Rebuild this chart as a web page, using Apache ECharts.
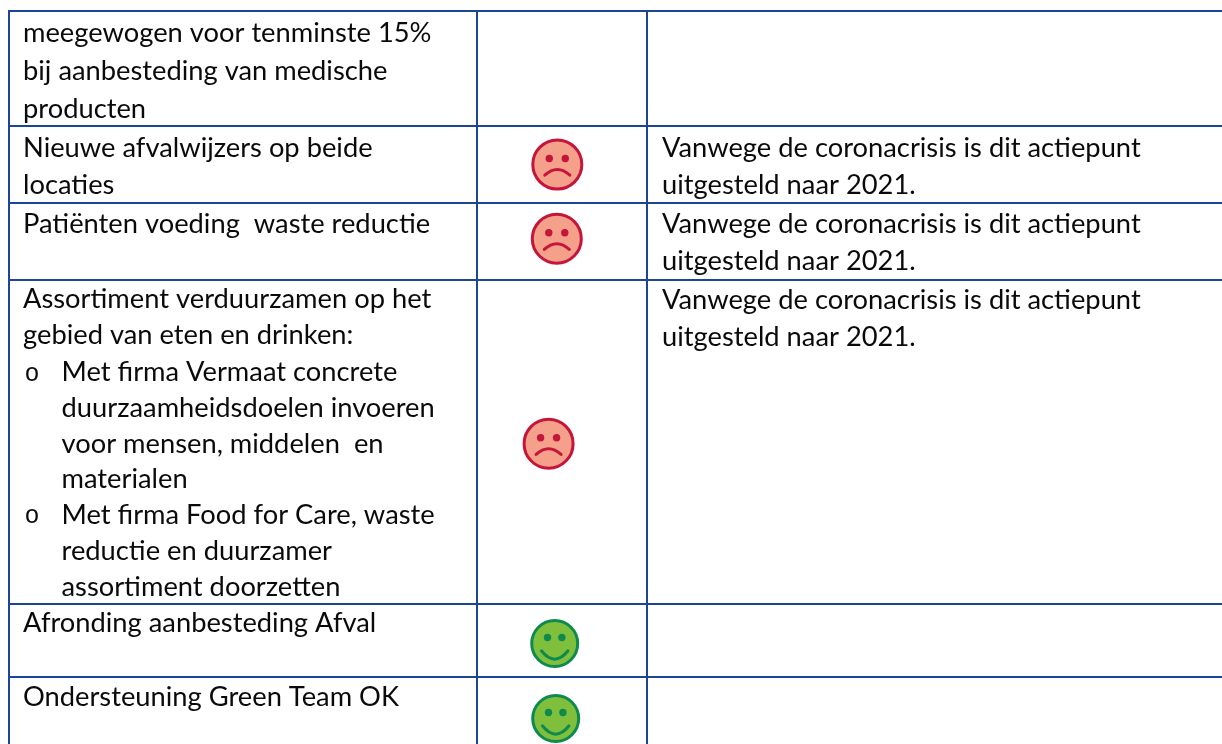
<!DOCTYPE html>
<html>
<head>
<meta charset="utf-8">
<style>
  html, body { margin: 0; padding: 0; background: #fff; }
  #main { width: 1222px; height: 744px; }
</style>
<script src="https://cdn.jsdelivr.net/npm/echarts@6/dist/echarts.min.js"></script>
</head>
<body>
<div id="main"></div>
<script>
// table content, one entry per row
const taskLines = [
  ["meegewogen voor tenminste 15%", "bij aanbesteding van medische", "producten"],
  ["Nieuwe afvalwijzers op beide", "locaties"],
  ["Patiënten voeding  waste reductie"],
  ["Assortiment verduurzamen op het", "gebied van eten en drinken:"],
  ["Afronding aanbesteding Afval"],
  ["Ondersteuning Green Team OK"],
];
const subItems = [
  ["Met firma Vermaat concrete", "duurzaamheidsdoelen invoeren", "voor mensen, middelen  en", "materialen"],
  ["Met firma Food for Care, waste", "reductie en duurzamer", "assortiment doorzetten"],
];
const noteText = ["Vanwege de coronacrisis is dit actiepunt", "uitgesteld naar 2021."];
const noteRows = [1, 2, 3];
const moods = [null, "sad", "sad", "sad", "happy", "happy"];

// layout of the page, axes below run 1:1 with the pixels
const colRules = [9, 477, 647];
const rowRules = [11, 126, 203, 280, 604, 677];
const taskBaselines = [42.5, 157.5, 233.5, 308, 632, 706];
const noteBaselines = { 1: 157, 2: 233, 3: 309 };
const moodCentres = [null, [557.3, 164.5], [556.8, 238.7], [548.6, 443.7], [554.7, 643.5], [555.7, 718.5]];
const LINE_GAP = 36.6;
const TEXT_X = 23;
const NOTE_X = 662;
const SUB_X = 61.5;
const BULLET_X = 32;
const RULE = "#1c4593";
const FONT = "Lato";
const FONT_SIZE = 27.3;

const PALETTE = {
  sad: { fill: "#f4a08a", line: "#c5153a", r: 24.5 },
  happy: { fill: "#80bf3c", line: "#0e8a4e", r: 23 },
};

// every text line as [x, baseline, text, kind]
const textRows = [];
taskLines.forEach((lines, row) => {
  const gap = row === 0 ? 37.7 : LINE_GAP;
  lines.forEach((line, i) => {
    textRows.push([TEXT_X, taskBaselines[row] + i * gap, line, "task"]);
  });
});
let subY = 381.5;
subItems.forEach((lines) => {
  textRows.push([BULLET_X, subY + 1.5, "o", "bullet"]);
  lines.forEach((line) => {
    textRows.push([SUB_X, subY, line, "task"]);
    subY += 35.7;
  });
});
noteRows.forEach((row) => {
  noteText.forEach((line, i) => {
    textRows.push([NOTE_X, noteBaselines[row] + i * 37, line, "note"]);
  });
});

const ruleRows = [
  ...rowRules.map((y) => [colRules[0] - 1, y, 1222, y]),
  ...colRules.map((x) => [x, rowRules[0] - 1, x, 744]),
];

const moodRows = [];
moods.forEach((mood, row) => {
  if (mood) moodRows.push([moodCentres[row][0], moodCentres[row][1], mood]);
});

const renderRule = (params, api) => {
  const a = api.coord([api.value(0), api.value(1)]);
  const b = api.coord([api.value(2), api.value(3)]);
  return {
    type: "line",
    shape: { x1: a[0], y1: a[1], x2: b[0], y2: b[1] },
    style: { stroke: RULE, lineWidth: 2 },
  };
};

const renderText = (params, api) => {
  const p = api.coord([api.value(0), api.value(1)]);
  const row = textRows[params.dataIndex];
  const bullet = row[3] === "bullet";
  return {
    type: "text",
    x: p[0],
    y: p[1] - 9,
    style: {
      text: row[2],
      fill: "#0a0a0a",
      font: bullet ? "25px 'Liberation Mono'" : FONT_SIZE + "px " + FONT,
      align: bullet ? "center" : "left",
      verticalAlign: "middle",
    },
  };
};

const renderMood = (params, api) => {
  const p = api.coord([api.value(0), api.value(1)]);
  const mood = moodRows[params.dataIndex][2];
  const c = PALETTE[mood];
  const sad = mood === "sad";
  const eyeX = sad ? 8 : 7.2;
  const eye = (dx) => ({
    type: "circle",
    shape: { cx: dx, cy: -6, r: 3.7 },
    style: { fill: c.line },
  });
  return {
    type: "group",
    x: p[0],
    y: p[1],
    children: [
      {
        type: "circle",
        shape: { cx: 0, cy: 0, r: c.r },
        style: { fill: c.fill, stroke: c.line, lineWidth: 3 },
      },
      eye(-eyeX),
      eye(eyeX),
      {
        type: "bezierCurve",
        shape: sad
          ? { x1: -12.5, y1: 10.7, x2: 12.5, y2: 10.7, cpx1: 0, cpy1: -0.7 }
          : { x1: -13.3, y1: 7.3, x2: 13.3, y2: 7.3, cpx1: 0, cpy1: 24 },
        style: { fill: "none", stroke: c.line, lineWidth: 3, lineCap: "round" },
      },
    ],
  };
};

const myChart = echarts.init(document.getElementById("main"), null, { renderer: "canvas" });
myChart.setOption({
  animation: false,
  backgroundColor: "#fff",
  grid: { left: 0, right: 0, top: 0, bottom: 0 },
  xAxis: { type: "value", min: 0, max: 1222, show: false },
  yAxis: { type: "value", min: 0, max: 744, inverse: true, show: false },
  series: [
    { type: "custom", silent: true, clip: false, data: ruleRows, renderItem: renderRule, encode: { x: [0, 2], y: [1, 3] } },
    { type: "custom", silent: true, clip: false, data: moodRows, renderItem: renderMood, encode: { x: 0, y: 1 } },
    { type: "custom", silent: true, clip: false, data: textRows, renderItem: renderText, encode: { x: 0, y: 1 } },
  ],
});
</script>
</body>
</html>
